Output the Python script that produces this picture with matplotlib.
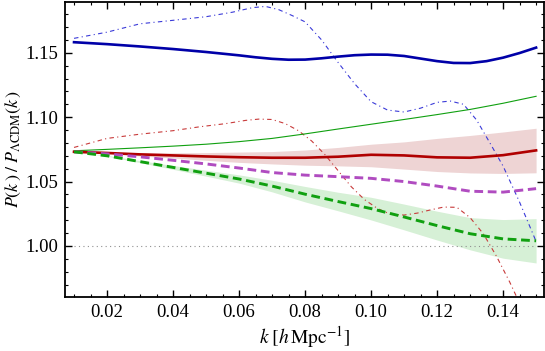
import numpy as np
import matplotlib
matplotlib.use("Agg")
import matplotlib.pyplot as plt
from matplotlib.ticker import MultipleLocator, FormatStrFormatter

plt.rcParams.update({
    "font.family": "serif", "font.serif": ["Liberation Serif", "DejaVu Serif"],
    "mathtext.fontset": "stix", "font.size": 11,
    "xtick.direction": "in", "ytick.direction": "in",
    "xtick.top": True, "ytick.right": True,
})

# ---- data ----
k = np.array([0.01, 0.02, 0.03, 0.04, 0.05, 0.06, 0.07, 0.08,
              0.09, 0.10, 0.11, 0.12, 0.13, 0.14, 0.15])

k_blue = [0.010, 0.020, 0.030, 0.040, 0.050, 0.060, 0.065, 0.070, 0.075, 0.080,
          0.085, 0.090, 0.095, 0.100, 0.105, 0.110, 0.115, 0.120, 0.125, 0.130,
          0.135, 0.140, 0.145, 0.150]
blue_solid = [1.1582, 1.1567, 1.1549, 1.1529, 1.1506, 1.1480, 1.1465, 1.1453, 1.1446, 1.1447,
              1.1457, 1.1470, 1.1481, 1.1486, 1.1485, 1.1475, 1.1455, 1.1435, 1.1421, 1.1420,
              1.1435, 1.1462, 1.1498, 1.1540]
green_thin = [1.0739, 1.0750, 1.0762, 1.0775, 1.0790, 1.0810, 1.0835, 1.0870,
              1.0908, 1.0945, 1.0982, 1.1020, 1.1060, 1.1108, 1.1162]
red_solid = [1.0731, 1.0722, 1.0711, 1.0703, 1.0695, 1.0689, 1.0685, 1.0685,
             1.0693, 1.0708, 1.0703, 1.0688, 1.0685, 1.0705, 1.0742]
red_up = [1.0731, 1.0727, 1.0723, 1.0723, 1.0725, 1.0729, 1.0733, 1.0745,
          1.0765, 1.0790, 1.0808, 1.0835, 1.0858, 1.0885, 1.0914]
red_lo = [1.0731, 1.0717, 1.0699, 1.0683, 1.0665, 1.0649, 1.0637, 1.0627,
          1.0622, 1.0615, 1.0597, 1.0578, 1.0567, 1.0563, 1.0568]
purple_dash = [1.0731, 1.0715, 1.0692, 1.0665, 1.0637, 1.0605, 1.0570, 1.0550,
               1.0538, 1.0525, 1.0500, 1.0465, 1.0425, 1.0418, 1.0445]
green_dash = [1.0731, 1.0700, 1.0655, 1.0610, 1.0565, 1.0520, 1.0465, 1.0402,
              1.0345, 1.0290, 1.0225, 1.0158, 1.0095, 1.0055, 1.0040]
green_up = [1.0731, 1.0703, 1.0663, 1.0625, 1.0588, 1.0552, 1.0510, 1.0462,
            1.0417, 1.0378, 1.0325, 1.0270, 1.0220, 1.0205, 1.0212]
green_lo = [1.0731, 1.0697, 1.0647, 1.0595, 1.0542, 1.0488, 1.0420, 1.0342,
            1.0273, 1.0202, 1.0125, 1.0046, 0.9970, 0.9905, 0.9868]

k_bdd = [0.010, 0.020, 0.030, 0.040, 0.050, 0.058, 0.064, 0.068, 0.072, 0.076,
         0.080, 0.085, 0.090, 0.095, 0.100, 0.105, 0.110, 0.115, 0.120, 0.124,
         0.128, 0.132, 0.136, 0.140, 0.145, 0.150]
blue_dd = [1.1612, 1.1660, 1.1725, 1.1752, 1.1780, 1.1815, 1.1850, 1.1860, 1.1835, 1.1790,
           1.1740, 1.1600, 1.1425, 1.1260, 1.1120, 1.1055, 1.1040, 1.1070, 1.1115, 1.1125,
           1.1100, 1.0977, 1.0800, 1.0620, 1.0340, 1.0035]

k_rdd = [0.010, 0.020, 0.030, 0.040, 0.048, 0.056, 0.062, 0.066, 0.070, 0.074,
         0.078, 0.082, 0.086, 0.090, 0.094, 0.098, 0.102, 0.106, 0.110, 0.114,
         0.118, 0.122, 0.126, 0.130, 0.134, 0.138, 0.142, 0.146, 0.150]
red_dd = [1.0765, 1.0835, 1.0868, 1.0895, 1.0925, 1.0950, 1.0975, 1.0985, 1.0982, 1.0950,
          1.0895, 1.0815, 1.0710, 1.0585, 1.0460, 1.0360, 1.0290, 1.0245, 1.0240, 1.0255,
          1.0280, 1.0302, 1.0300, 1.0220, 1.0095, 0.9920, 0.9720, 0.9500, 0.9280]

BLUE = "#0000a8"; BLUE2 = "#3a3ad8"; RED = "#b00000"; RED2 = "#c83a3a"
GREEN = "#10a010"; PURPLE = "#b04cc0"

fig = plt.figure(figsize=(5.45, 3.51), dpi=100)
ax = fig.add_axes([0.1193, 0.1547, 0.8789, 0.841])

ax.fill_between(k, red_lo, red_up, color="#eed4d4", lw=0)
ax.fill_between(k, green_lo, green_up, color="#d6f0d6", lw=0)

ax.plot([k[0], k[-1]], [1.0, 1.0], color="#909090", lw=0.8, dashes=(1, 3))

ax.plot(k_bdd, blue_dd, color=BLUE2, lw=0.8, dashes=(4, 3, 1, 3))
ax.plot(k_rdd, red_dd, color=RED2, lw=0.8, dashes=(4, 3, 1, 3))
ax.plot(k, green_thin, color=GREEN, lw=0.8)
ax.plot(k_blue, blue_solid, color=BLUE, lw=1.9)
ax.plot(k, red_solid, color=RED, lw=1.9)
ax.plot(k, purple_dash, color=PURPLE, lw=2.1, dashes=(3, 1.6))
ax.plot(k, green_dash, color=GREEN, lw=2.1, dashes=(3, 1.6))

ax.set_xlim(0.00727, 0.1524)
ax.set_ylim(0.9606, 1.1898)
ax.xaxis.set_major_locator(MultipleLocator(0.02))
ax.xaxis.set_minor_locator(MultipleLocator(0.005))
ax.yaxis.set_major_locator(MultipleLocator(0.05))
ax.yaxis.set_minor_locator(MultipleLocator(0.01))
ax.xaxis.set_major_formatter(FormatStrFormatter("%.2f"))
ax.yaxis.set_major_formatter(FormatStrFormatter("%.2f"))
ax.tick_params(which="major", length=5, width=1.0, labelsize=13.5, pad=5)
ax.tick_params(which="minor", length=2.5, width=0.8)
for s in ax.spines.values():
    s.set_linewidth(1.3)

ax.set_xlabel(r"$k\;[h\,\mathrm{Mpc}^{-1}]$", fontsize=14)
ax.set_ylabel(r"$P(k\,)\;/\;P_{\Lambda\mathrm{CDM}}(k\,)$", fontsize=13)
ax.xaxis.set_label_coords(0.5, -0.093)
ax.yaxis.set_label_coords(-0.088, 0.5)

fig.savefig("out.png", dpi=100)
